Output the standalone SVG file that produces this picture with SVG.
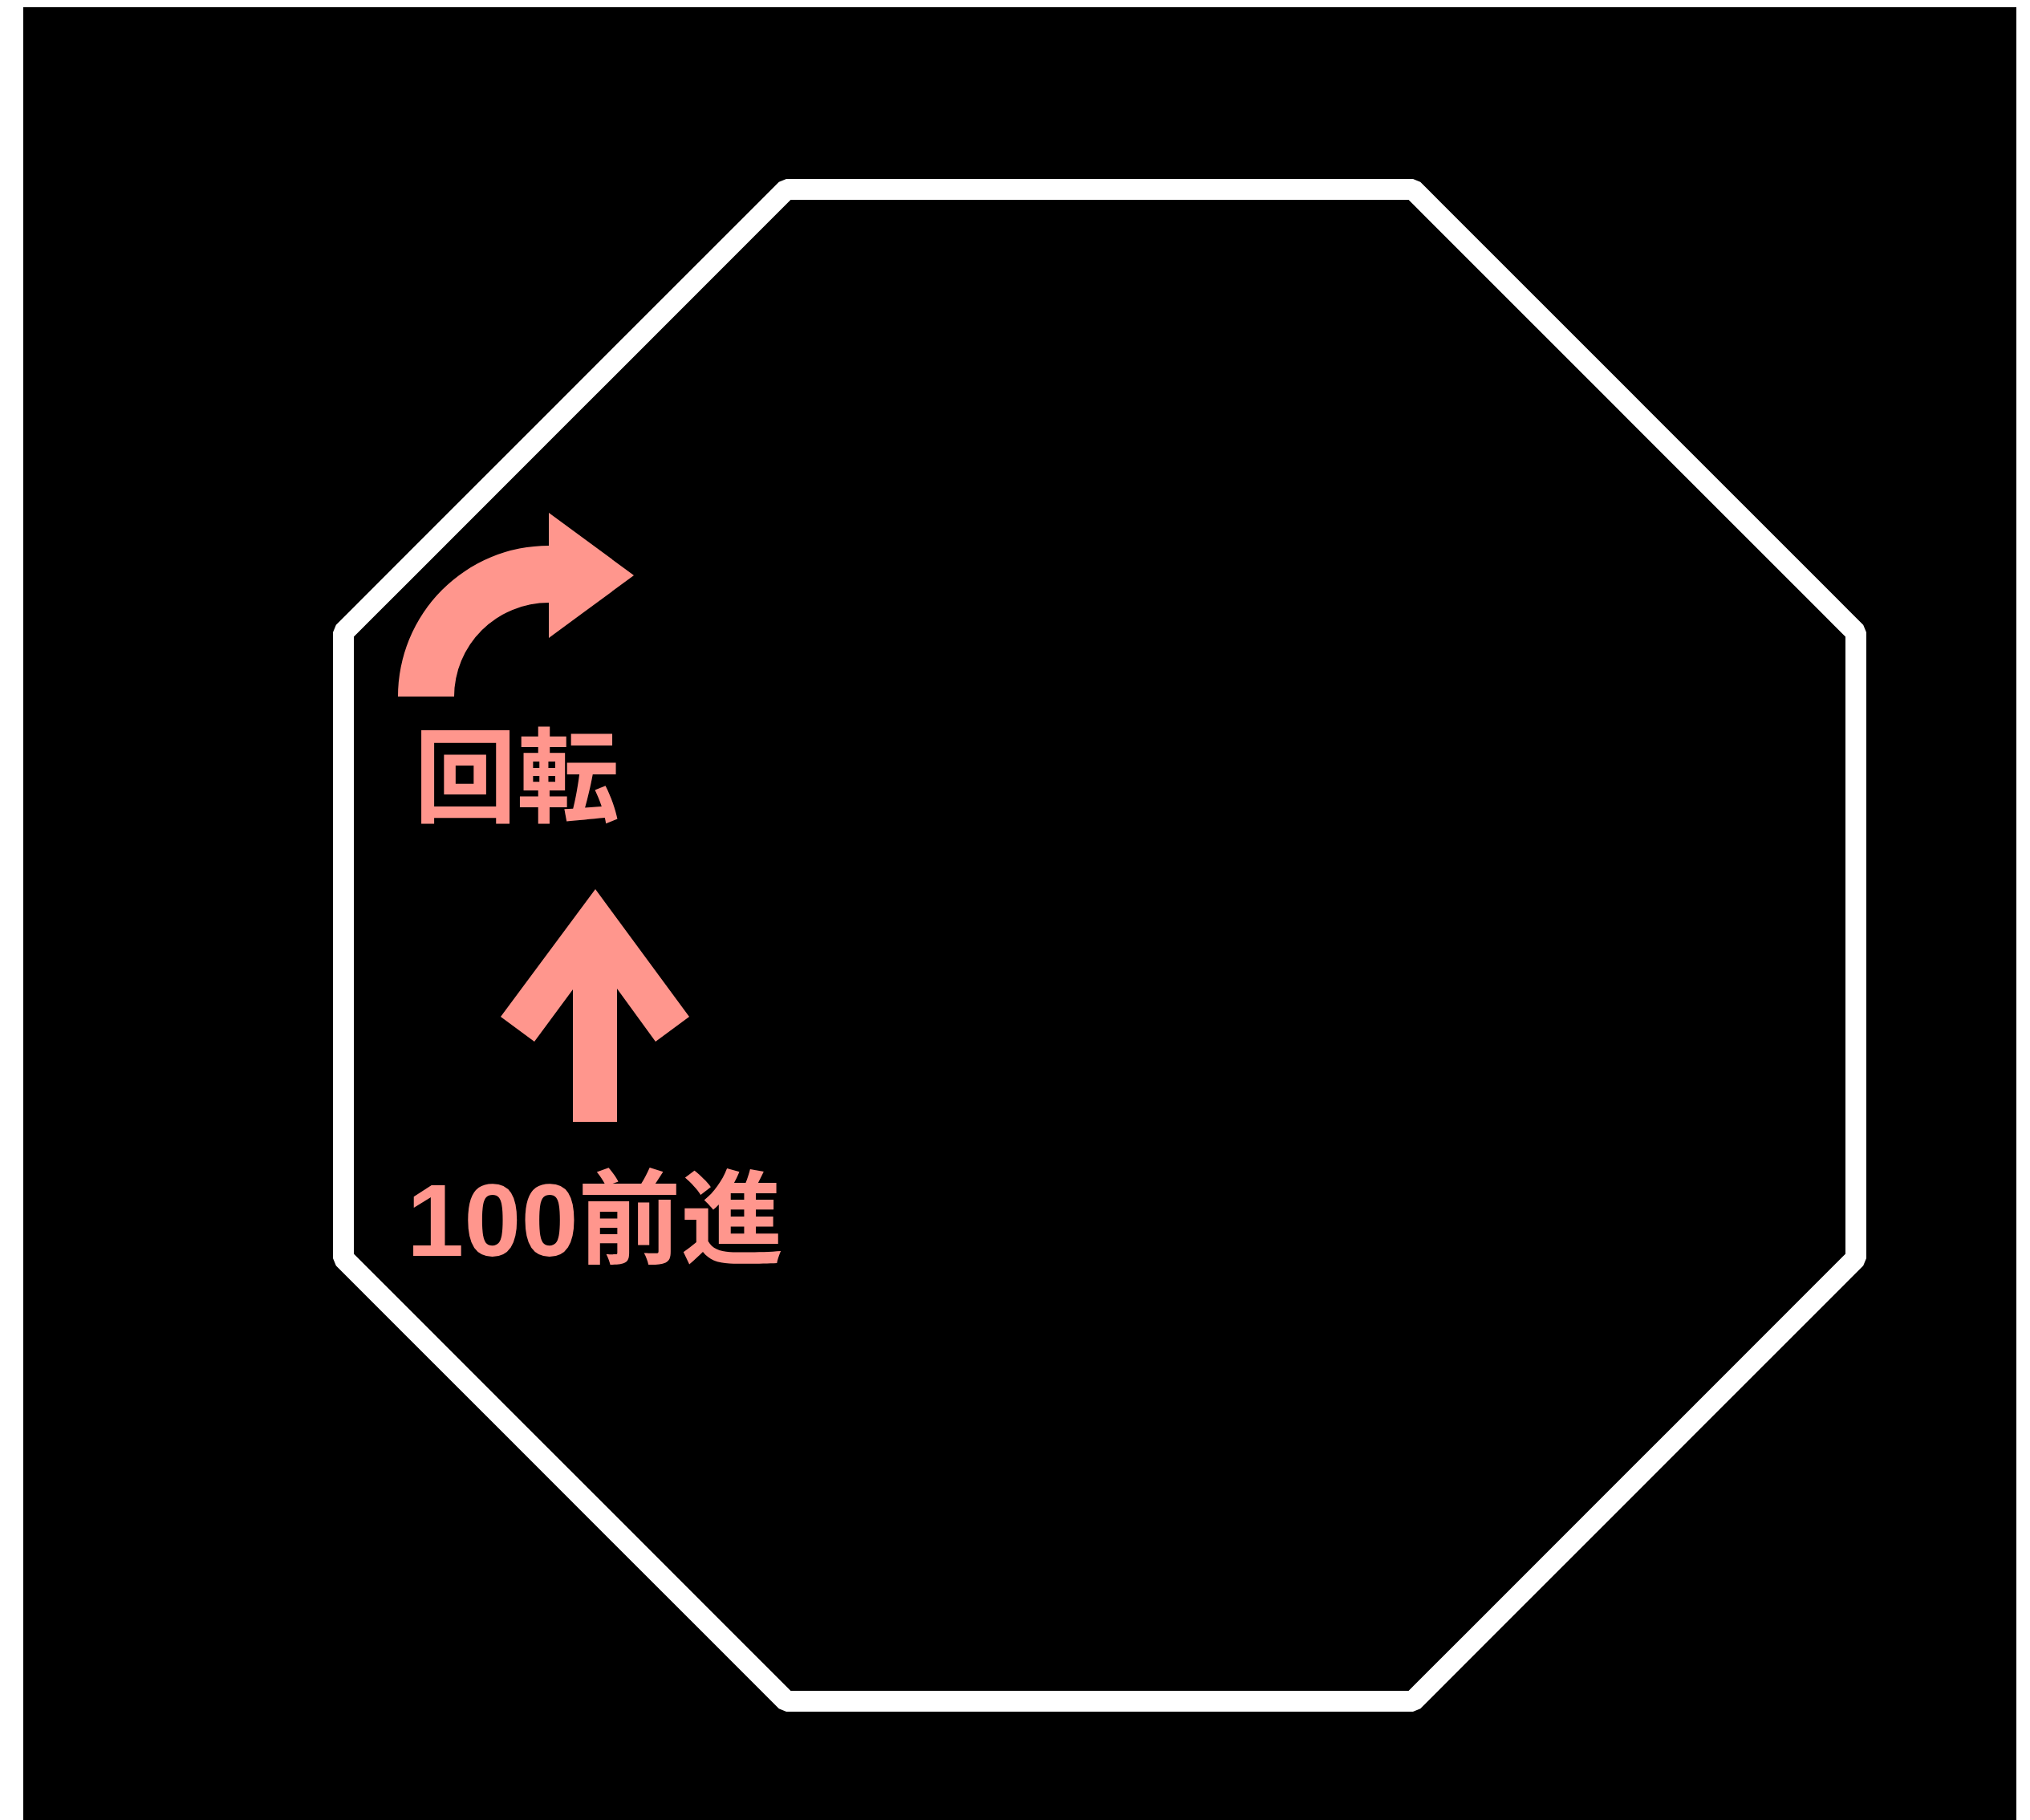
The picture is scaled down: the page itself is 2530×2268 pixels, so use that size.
<svg xmlns="http://www.w3.org/2000/svg" width="2530" height="2268" viewBox="0 0 2530 2268">
<style>
.arrow{fill:#FF968D;}
.lbl{fill:#FF968D;font-family:"Noto Sans CJK JP",sans-serif;font-weight:bold;font-size:128px;}
.num{font-family:"Liberation Sans",Arial,sans-serif;font-weight:bold;}
</style>
<rect x="0" y="0" width="2530" height="2268" fill="#FFFFFF"/>
<rect x="29" y="9" width="2484" height="2259" fill="#000000"/>
<g id="octagon">
<polygon points="980,236 1761,236 2313,788 2313,1568 1761,2120 980,2120 428,1568 428,788" fill="none" stroke="#FFFFFF" stroke-width="26" stroke-linejoin="bevel"/>
</g>
<g id="turn">
<path class="arrow" d="M496,868 A188,188 0 0 1 684,680 L684,639 L790,717 L684,795 L684,751 A118,117 0 0 0 566,868 Z"/>
<text class="lbl" x="516" y="1015">回転</text>
</g>
<g id="forward">
<polygon class="arrow" points="742,1108 859,1267 817,1298 769,1232 769,1398 714,1398 714,1233 666,1298 624,1267"/>
<text class="lbl" x="507" y="1565"><tspan class="num">100</tspan>前進</text>
</g>
</svg>
